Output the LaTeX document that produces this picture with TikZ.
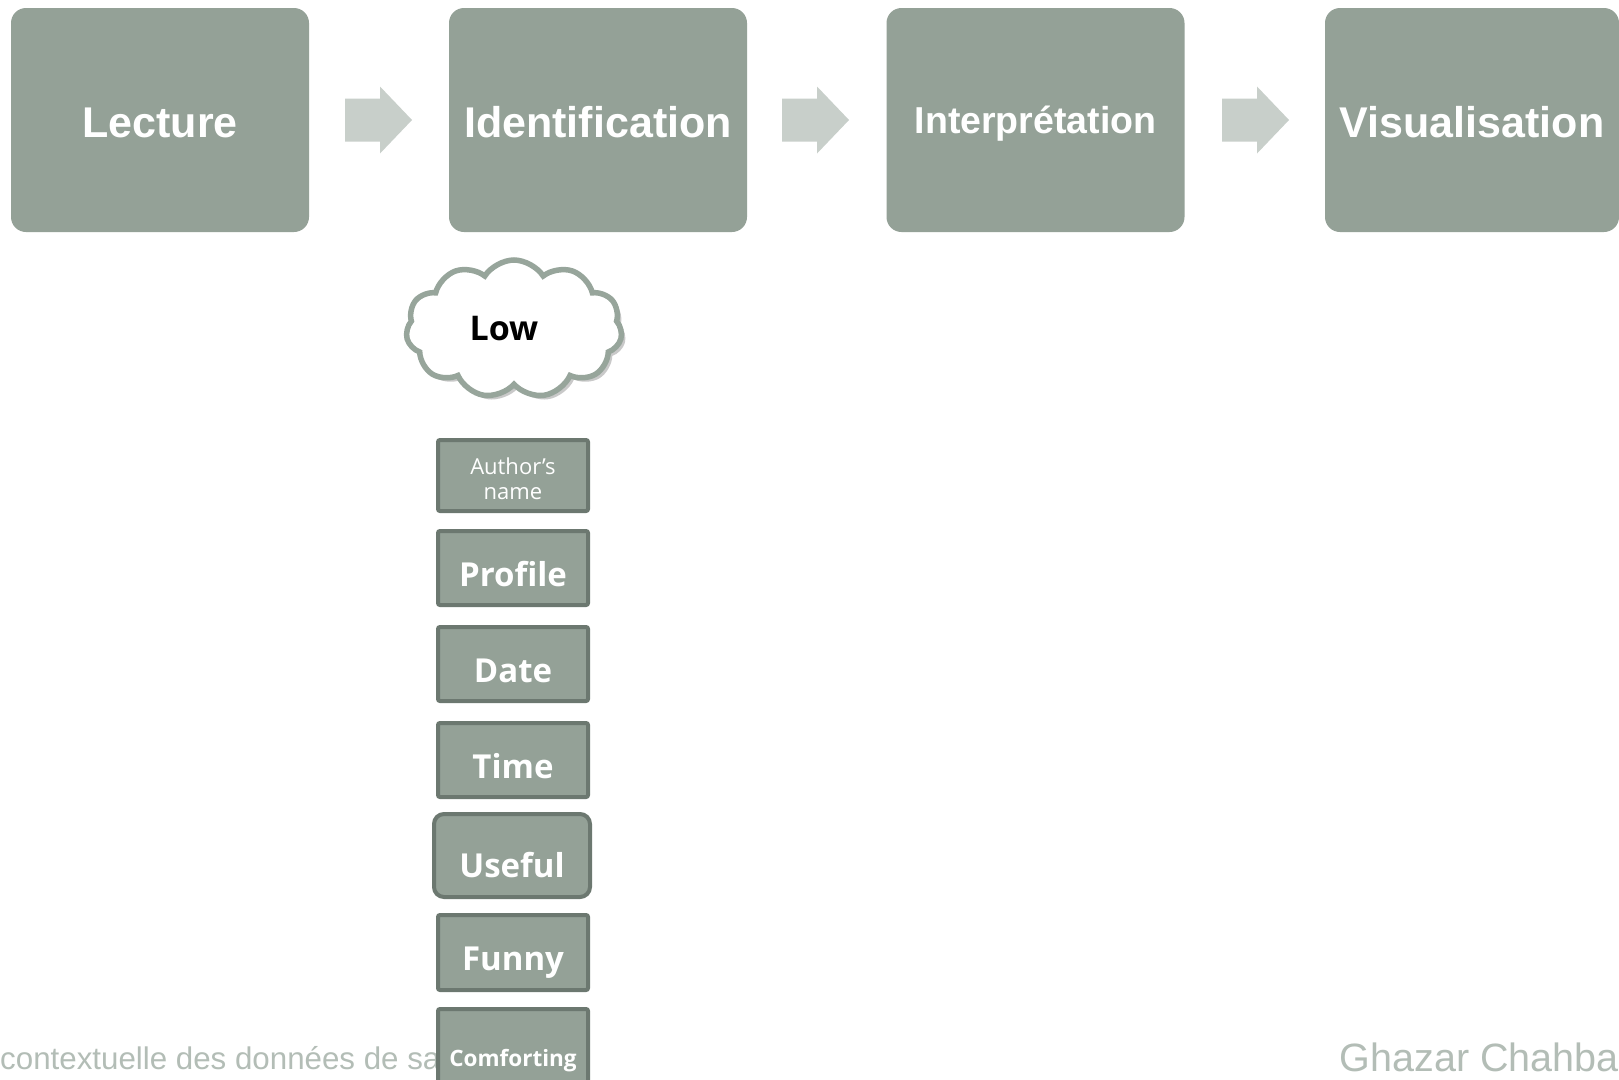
\documentclass[tikz,border=0pt]{standalone}
\usepackage{fontspec}
\setmainfont{Liberation Sans}
\newfontfamily\boxfont{Open Sans}
\usetikzlibrary{shapes.symbols,shadows}
\definecolor{boxfill}{HTML}{94A197}
\definecolor{boxline}{HTML}{6C7870}
\definecolor{arrowc}{HTML}{C8CFCA}
\definecolor{cloudline}{HTML}{97A59B}
\definecolor{footc}{HTML}{B3BDB6}
\tikzset{
  topbox/.style={fill=boxfill, rounded corners=15, minimum width=298, minimum height=224,
    inner sep=0, text=white, font=\fontsize{43}{48}\selectfont\bfseries, text height=34, text depth=0},
  smallbase/.style={draw=boxline, line width=4, fill=boxfill, rounded corners=2,
    minimum width=150, minimum height=74, inner sep=0, text=white},
  smallbox/.style={smallbase, font=\boxfont\fontsize{33}{38}\selectfont\bfseries, text height=36, text depth=0},
  authlbl/.style={text=white, inner sep=0, align=center, yshift=-3pt, font=\boxfont\fontsize{22}{26}\selectfont},
  blockarrow/.pic={\fill[arrowc] (0,-21.5) -- (35,-21.5) -- (35,-33.5) -- (67,0) -- (35,33.5) -- (35,21.5) -- (0,21.5) -- cycle;},
  foot/.style={text=footc, inner sep=0, font=\fontsize{31.3}{36}\selectfont}
}
\begin{document}
\begin{tikzpicture}[x=1pt,y=-1pt]
\useasboundingbox[fill=white] (0,0) rectangle (1619,1079);
% top row
\node[topbox] (lec) at (160,120) {Lecture};
\node[topbox] (ide) at (598,120) {Identification};
\node[topbox, font=\fontsize{37.5}{42}\selectfont\bfseries, text height=26] (int) at (1035.5,120) {Interprétation};
\node[topbox, minimum width=294] (vis) at (1472,120) {Visualisation};
\pic (a1) at (345,120) {blockarrow};
\pic (a2) at (782,120) {blockarrow};
\pic (a3) at (1222,120) {blockarrow};
% cloud
\node[cloud, cloud puffs=11, cloud puff arc=115, aspect=1.55, draw=cloudline, line width=5.5, fill=white,
  minimum width=216, minimum height=138, inner sep=0,
  drop shadow={shadow xshift=4pt, shadow yshift=-4pt, opacity=0.35, fill=black!60},
  font=\boxfont\fontsize{34}{38}\selectfont\bfseries, text=black] (low) at (514,329) {\hspace*{-20pt}Low};
% footer
\node[foot, anchor=base west] (ftl) at (0,1069) {contextuelle des données de sa};
\node[foot, anchor=base east, font=\fontsize{39.5}{45}\selectfont] (ftr) at (1619,1071) {Ghazar Chahba};
% small boxes
\node[smallbase, minimum height=71, label={[authlbl]center:Author’s\\[-1pt]name}] (aut) at (513,475.5) {};
\node[smallbox] (pro) at (513,568) {Profile};
\node[smallbox] (dat) at (513,664) {Date};
\node[smallbox] (tim) at (513,760) {Time};
\node[smallbox, minimum width=156, minimum height=83, rounded corners=10, text height=43] (use) at (512,855.5) {Useful};
\node[smallbox, minimum height=75] (fun) at (513,952.5) {Funny};
\node[smallbox, font=\boxfont\fontsize{22.5}{26}\selectfont\bfseries, text height=40] (com) at (513,1046) {Comforting};
\end{tikzpicture}
\end{document}
